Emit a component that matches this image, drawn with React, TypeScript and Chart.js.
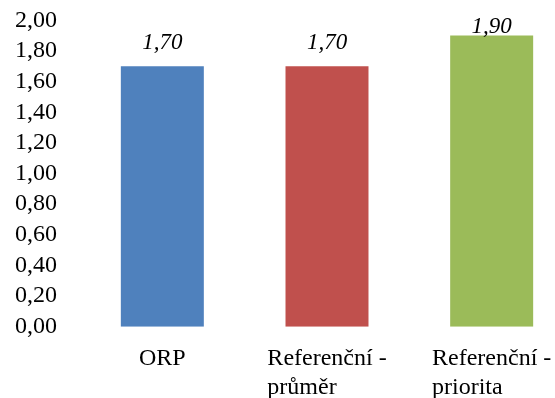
import React, { useEffect, useRef } from "react";
import { Chart, registerables } from "chart.js";

Chart.register(...registerables);

const categories: (string | string[])[] = ["ORP", ["Referenční -", "průměr"], ["Referenční -", "priorita"]];
const values: number[] = [1.7, 1.7, 1.9];
const barColors: string[] = ["#4F81BD", "#C0504D", "#9BBB59"];
const yMin = 0;
const yMax = 2;
const yStep = 0.2;

const FONT_FAMILY = "'Liberation Serif', 'DejaVu Serif', serif";
const X_FONT_SIZE = 24;
const X_LINE_HEIGHT = 28.5;
const Y_FONT_SIZE = 24;
const LABEL_FONT_SIZE = 23;

const fmt = (v: number) => v.toFixed(2).replace(".", ",");

const valueLabels = {
  id: "valueLabels",
  afterDatasetsDraw(chart: any) {
    const { ctx, chartArea } = chart;
    const meta = chart.getDatasetMeta(0);
    ctx.save();
    ctx.font = `italic ${LABEL_FONT_SIZE}px ${FONT_FAMILY}`;
    ctx.fillStyle = "#000";
    ctx.textAlign = "center";
    ctx.textBaseline = "alphabetic";
    meta.data.forEach((bar: any, i: number) => {
      const y = Math.max(bar.y - 17, chartArea.top + 13);
      ctx.fillText(fmt(values[i]), bar.x, y);
    });
    ctx.restore();
  },
};

const categoryLabels = {
  id: "categoryLabels",
  afterDraw(chart: any) {
    const { ctx, chartArea } = chart;
    const xScale = chart.scales.x;
    ctx.save();
    ctx.font = `${X_FONT_SIZE}px ${FONT_FAMILY}`;
    ctx.fillStyle = "#000";
    ctx.textAlign = "left";
    ctx.textBaseline = "alphabetic";
    categories.forEach((label, i) => {
      const lines = Array.isArray(label) ? label : [label];
      const w = Math.max(...lines.map((l) => ctx.measureText(l).width));
      const cx = xScale.getPixelForTick(i);
      lines.forEach((line, j) => {
        ctx.fillText(line, cx - w / 2, chartArea.bottom + 38.5 + j * X_LINE_HEIGHT);
      });
    });
    ctx.restore();
  },
};

export default function App() {
  const ref = useRef<HTMLCanvasElement | null>(null);
  useEffect(() => {
    if (!ref.current) return;
    const chart = new Chart(ref.current, {
      type: "bar",
      data: {
        labels: categories as any,
        datasets: [
          {
            data: values,
            backgroundColor: barColors,
            borderWidth: 0,
            categoryPercentage: 1,
            barPercentage: 0.504,
          },
        ],
      },
      options: {
        animation: false,
        responsive: false,
        layout: { padding: { top: 20.3, left: 0, right: 0, bottom: 0 } },
        plugins: {
          legend: { display: false },
          tooltip: { enabled: false },
        },
        scales: {
          x: {
            grid: { display: false, drawTicks: false },
            border: { display: false },
            ticks: { display: false },
            afterFit: (scale: any) => {
              scale.height = 71.3;
              scale.paddingLeft = 0;
              scale.paddingRight = 0;
            },
          },
          y: {
            min: yMin,
            max: yMax,
            grid: { display: false, drawTicks: false },
            border: { display: false },
            ticks: {
              stepSize: yStep,
              autoSkip: false,
              color: "#000",
              font: { family: FONT_FAMILY, size: Y_FONT_SIZE },
              padding: 23,
              callback: (v: any) => fmt(Number(v)),
            },
            afterFit: (scale: any) => {
              scale.width = 80;
              scale.paddingTop = 0;
              scale.paddingBottom = 0;
            },
          },
        },
      },
      plugins: [valueLabels, categoryLabels],
    });
    return () => chart.destroy();
  }, []);
  return (
    <div style={{ position: "absolute", left: 0, top: 0, width: 555, height: 398, overflow: "hidden", background: "#fff" }}>
      <canvas ref={ref} width={574} height={398} style={{ display: "block" }} />
    </div>
  );
}
